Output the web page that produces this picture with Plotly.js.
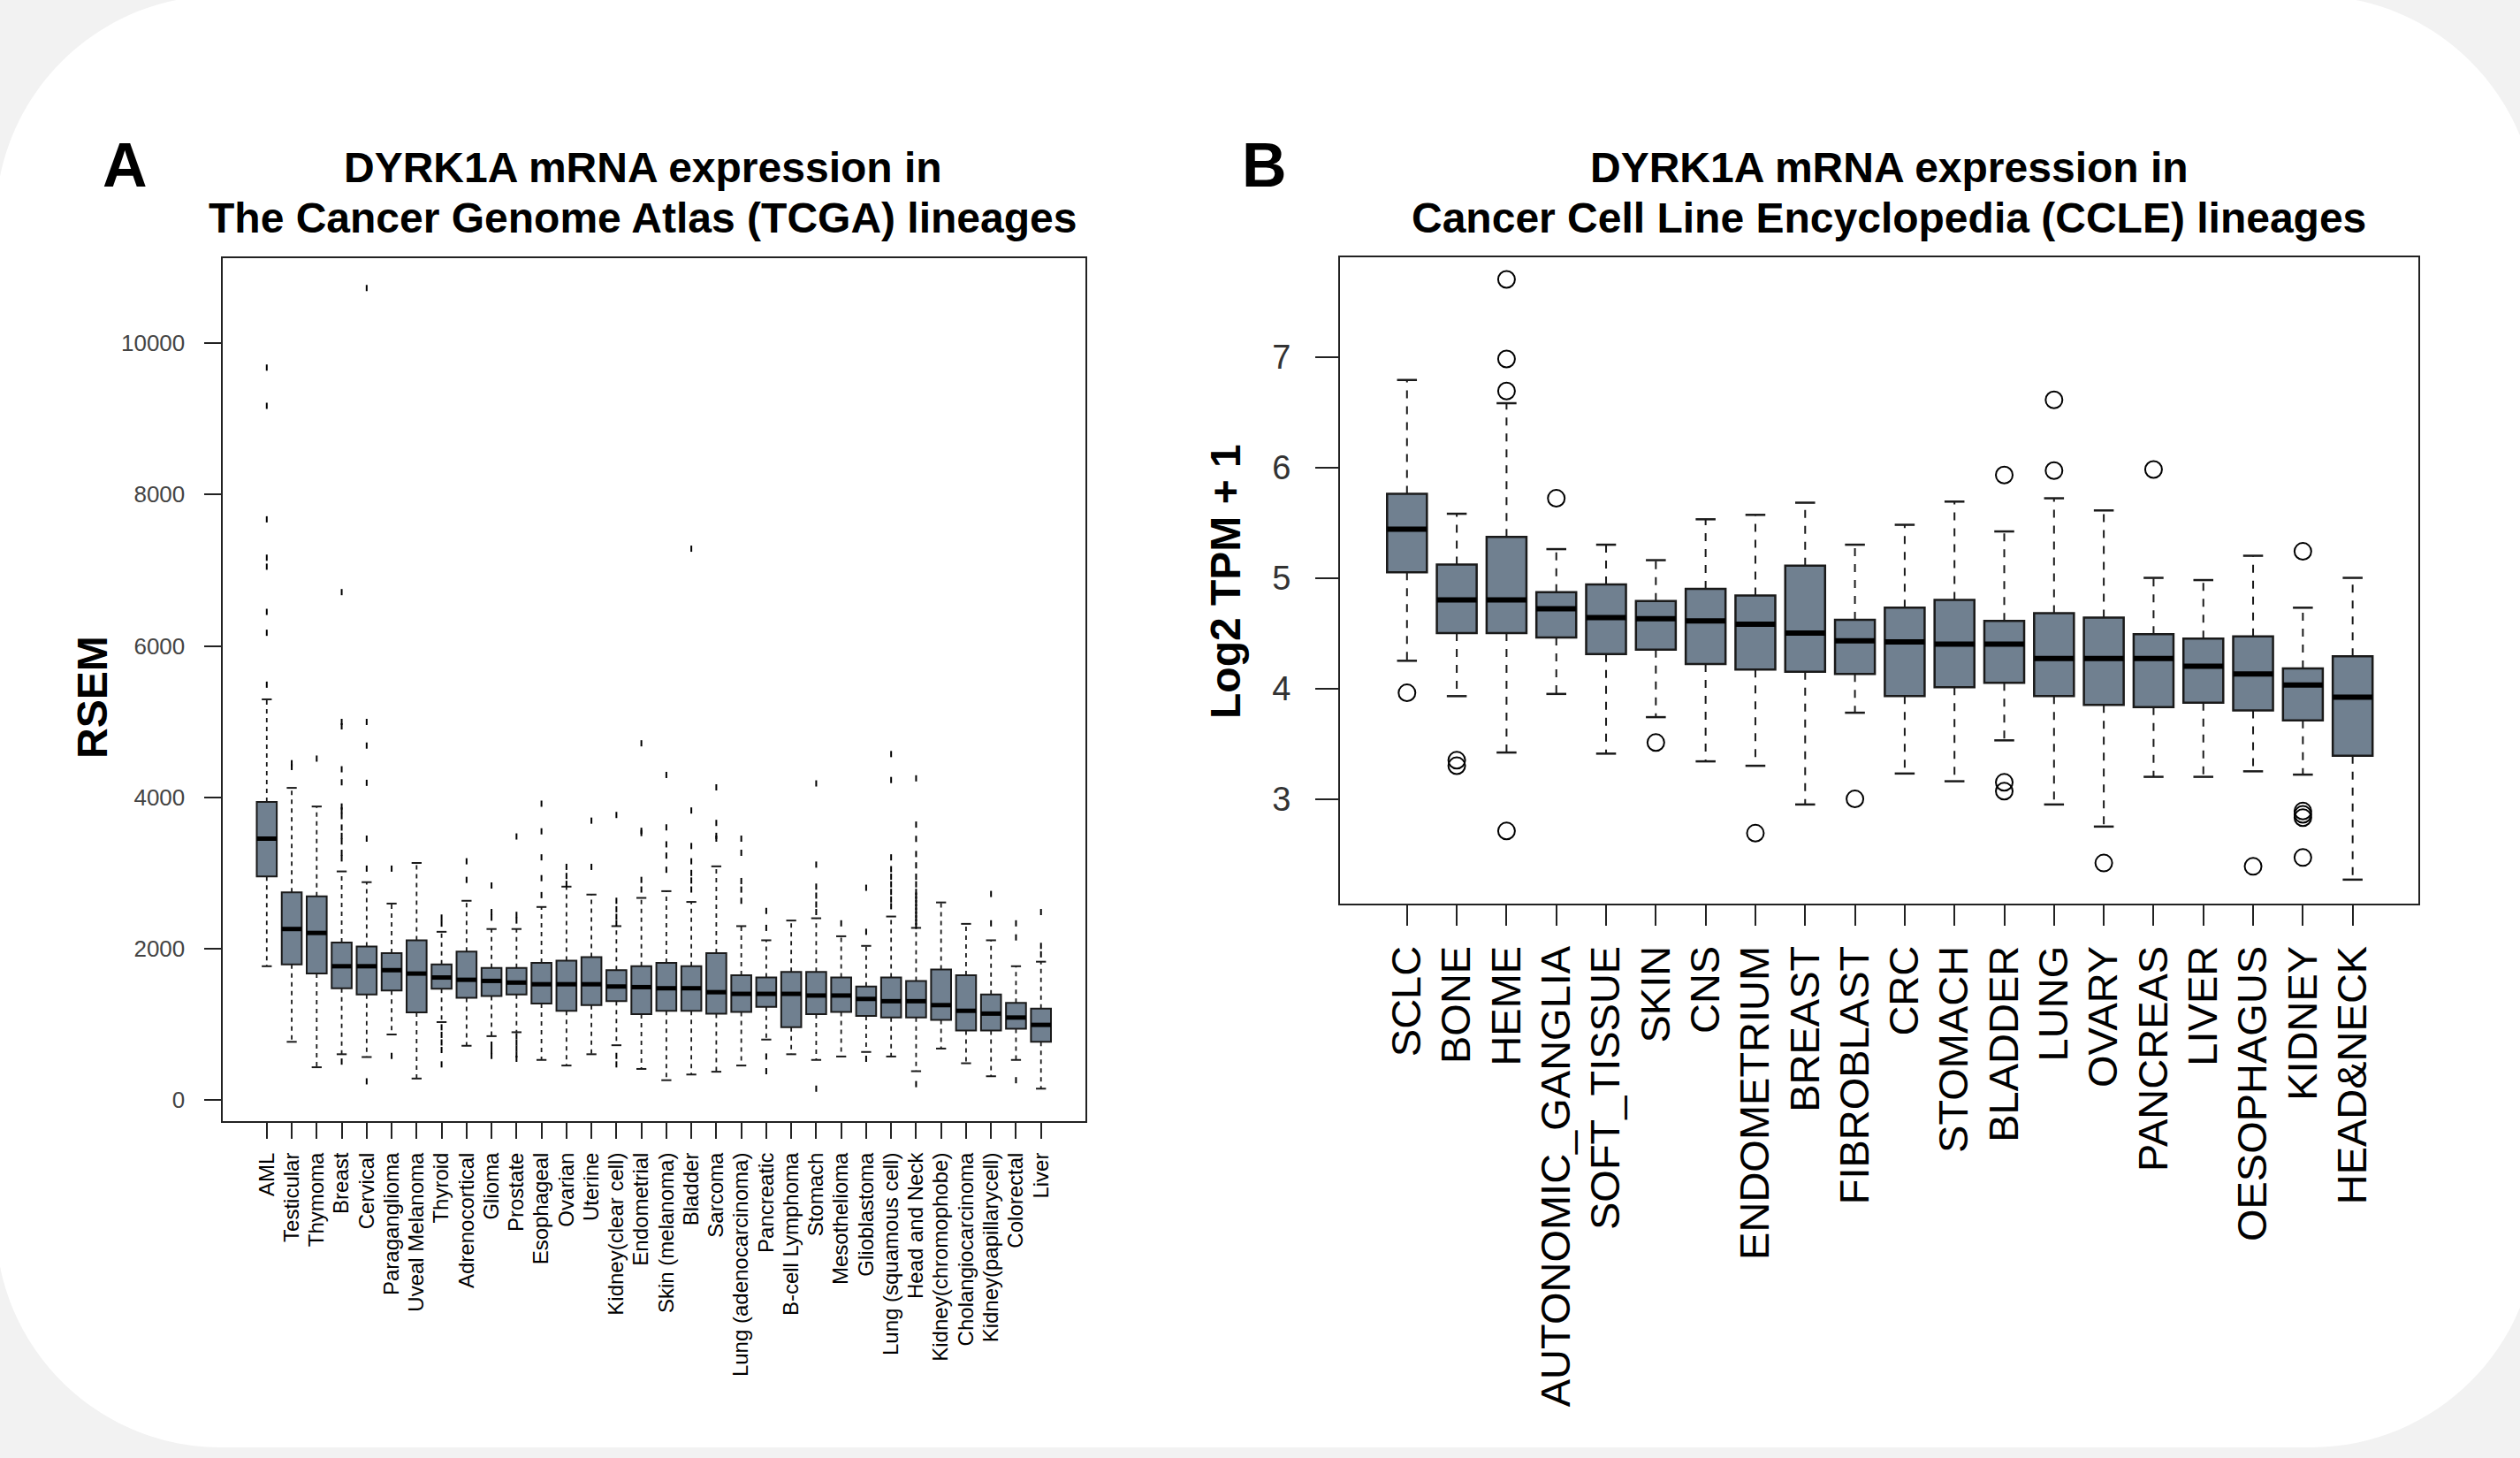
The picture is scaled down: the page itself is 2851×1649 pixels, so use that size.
<!DOCTYPE html>
<html><head><meta charset="utf-8">
<script src="https://cdn.plot.ly/plotly-3.0.1.min.js"></script>
<style>html,body{margin:0;padding:0;background:#f2f2f2;overflow:hidden}#chart{width:2851px;height:1649px}</style>
</head><body><div id="chart"></div>
<script>
// ---------- Panel A : TCGA (RSEM) ----------
const tcgaLineages = ["AML","Testicular","Thymoma","Breast","Cervical","Paraganglioma","Uveal Melanoma","Thyroid","Adrenocortical","Glioma","Prostate","Esophageal","Ovarian","Uterine","Kidney(clear cell)","Endometrial","Skin (melanoma)","Bladder","Sarcoma","Lung (adenocarcinoma)","Pancreatic","B-cell Lymphoma","Stomach","Mesothelioma","Glioblastoma","Lung (squamous cell)","Head and Neck","Kidney(chromophobe)","Cholangiocarcinoma","Kidney(papillarycell)","Colorectal","Liver"];
const tcgaQ3     = [3937,2744,2692,2080,2028,1939,2110,1790,1961,1745,1745,1812,1842,1887,1715,1767,1812,1767,1939,1648,1618,1693,1693,1618,1499,1618,1573,1723,1648,1394,1283,1208];
const tcgaMedian = [3453,2259,2207,1767,1767,1715,1670,1618,1588,1573,1551,1529,1529,1529,1499,1491,1476,1476,1424,1402,1402,1402,1380,1380,1335,1305,1305,1253,1178,1141,1089,992];
const tcgaQ1     = [2953,1790,1670,1476,1394,1447,1156,1469,1350,1372,1394,1275,1178,1253,1305,1133,1178,1178,1141,1163,1230,962,1133,1163,1111,1089,1089,1059,917,917,940,768];
const tcgaUpper  = [5294,4124,3878,3020,2878,2595,3132,2222,2632,2259,2259,2550,2819,2714,2297,2670,2759,2617,3087,2297,2110,2371,2401,2163,2036,2424,2274,2610,2327,2110,1767,1827];
const tcgaLower  = [1767,768,432,604,567,865,283,1029,716,843,895,529,455,604,723,410,261,336,373,455,798,604,529,574,634,574,380,679,485,313,529,149];
const tcgaOutliers = [
  [9679,9172,7673,7166,7047,6450,6174,5488],
  [4450,4400],
  [4511],
  [6711,4996,4937,4370,4198,3878,3825,3751,3600,3490,3415,3266,3192,507],
  [10731,4996,4683,4191,3453,3057,246],
  [3057,582],
  [],
  [2410,2330,960,860,760,660,470],
  [3154,2908],
  [2834,2483,2409,731,650,582],
  [3482,2446,2371,843,760,680,600,544],
  [3915,3550,3206,2931,2707],
  [3080,2960,2856],
  [3691,3080],
  [3766,2632,2520,2420,2334,582,470],
  [4713,3557,3527,2908,2781],
  [4295,3602,3378,3229,3042],
  [7285,3825,3356,3154,3000,2900,2781],
  [4131,3661,3490,3453],
  [3453,3266,2893,2780,2632],
  [2498,2274,574,380],
  [],
  [4183,3110,2819,2700,2583,2483,149],
  [2334],
  [2804,2222,544],
  [4571,4228,3206,3050,2950,2850,2750,2650,2560],
  [4250,3639,3450,3250,3100,2950,2850,2750,2700,2650,2600,2550,2500,2450,2400,2350,2300,209],
  [],
  [],
  [2722,2334],
  [2334,2148,261],
  [2483,2036,1924]
];
const tcgaTicks = [0,2000,4000,6000,8000,10000];

// ---------- Panel B : CCLE (Log2 TPM + 1) ----------
const ccleLineages = ["SCLC","BONE","HEME","AUTONOMIC_GANGLIA","SOFT_TISSUE","SKIN","CNS","ENDOMETRIUM","BREAST","FIBROBLAST","CRC","STOMACH","BLADDER","LUNG","OVARY","PANCREAS","LIVER","OESOPHAGUS","KIDNEY","HEAD&NECK"];
const ccleQ3     = [5.76,5.12,5.37,4.87,4.94,4.79,4.90,4.84,5.11,4.62,4.73,4.80,4.61,4.68,4.64,4.49,4.45,4.47,4.18,4.29];
const ccleMedian = [5.44,4.80,4.80,4.72,4.64,4.63,4.61,4.58,4.50,4.43,4.42,4.40,4.40,4.27,4.27,4.27,4.20,4.13,4.03,3.92];
const ccleQ1     = [5.05,4.50,4.50,4.46,4.31,4.35,4.22,4.17,4.15,4.13,3.93,4.01,4.05,3.93,3.85,3.83,3.87,3.80,3.71,3.39];
const ccleUpper  = [6.79,5.58,6.58,5.26,5.30,5.16,5.53,5.57,5.68,5.30,5.48,5.69,5.42,5.72,5.61,5.00,4.98,5.20,4.73,5.00];
const ccleLower  = [4.25,3.93,3.42,3.95,3.41,3.74,3.34,3.30,2.95,3.78,3.23,3.16,3.53,2.95,2.75,3.20,3.20,3.25,3.22,2.27];
const ccleOutliers = [
  [3.96],[3.35,3.30],[7.70,6.98,6.69,2.71],[5.72],[],[3.51],[],[2.69],[],[3.00],
  [],[],[5.93,3.15,3.07],[6.61,5.97],[2.42],[5.98],[],[2.39],[5.24,2.89,2.86,2.83,2.47],[]
];
const ccleTicks = [3,4,5,6,7];

// ---------- helpers ----------
const W = 2851, H = 1649;
const FONT = "Liberation Sans, Arial, Helvetica, sans-serif";
const BOXFILL = "rgb(112,128,144)";
const px = v => v / W, py = v => 1 - v / H;

function panelTraces(names, q1, med, q3, lo, up, outs, xa, ya, st) {
  const idx = names.map((_, i) => i);
  const half = st.boxWidth / 2, stap = st.boxWidth / 4;
  const traces = [];
  traces.push({
    type: "box", x: idx, q1: q1, median: med, q3: q3, lowerfence: q1, upperfence: q3,
    width: st.boxWidth, whiskerwidth: 0, boxpoints: false,
    fillcolor: BOXFILL, line: {color: "#1a1a1a", width: st.boxLine},
    xaxis: xa, yaxis: ya, hoverinfo: "skip"
  });
  const wx = [], wy = [], sx = [], sy = [], mx = [], my = [], ox = [], oy = [];
  idx.forEach(i => {
    wx.push(i, i, null, i, i, null); wy.push(q3[i], up[i], null, q1[i], lo[i], null);
    sx.push(i - stap, i + stap, null, i - stap, i + stap, null); sy.push(up[i], up[i], null, lo[i], lo[i], null);
    mx.push(i - half, i + half, null); my.push(med[i], med[i], null);
    outs[i].forEach(v => { ox.push(i); oy.push(v); });
  });
  traces.push({type: "scatter", mode: "lines", x: wx, y: wy, xaxis: xa, yaxis: ya, hoverinfo: "skip",
    line: {color: "#1a1a1a", width: st.whiskLine, dash: st.dash}});
  traces.push({type: "scatter", mode: "lines", x: sx, y: sy, xaxis: xa, yaxis: ya, hoverinfo: "skip",
    line: {color: "#1a1a1a", width: st.stapleLine}});
  traces.push({type: "scatter", mode: "lines", x: mx, y: my, xaxis: xa, yaxis: ya, hoverinfo: "skip",
    line: {color: "#000", width: st.medLine}});
  traces.push({type: "scatter", mode: "markers", x: ox, y: oy, xaxis: xa, yaxis: ya, hoverinfo: "skip",
    marker: st.outMarker});
  return traces;
}

const data = [].concat(
  panelTraces(tcgaLineages, tcgaQ1, tcgaMedian, tcgaQ3, tcgaLower, tcgaUpper, tcgaOutliers, "x", "y",
    {boxWidth: 0.8, boxLine: 2, whiskLine: 1.8, stapleLine: 2, medLine: 5, dash: "5px,5px",
     outMarker: {symbol: "line-ns-open", size: 5, color: "#000", line: {color: "#000", width: 2}}}),
  panelTraces(ccleLineages, ccleQ1, ccleMedian, ccleQ3, ccleLower, ccleUpper, ccleOutliers, "x2", "y2",
    {boxWidth: 0.8, boxLine: 2.5, whiskLine: 2, stapleLine: 2.5, medLine: 6, dash: "9px,9px",
     outMarker: {symbol: "circle-open", size: 19, color: "#000", line: {color: "#000", width: 2}}})
);

const axisCommon = {showline: true, mirror: true, linecolor: "#222", linewidth: 2, showgrid: false,
  zeroline: false, ticks: "outside", tickwidth: 2, tickcolor: "#222", fixedrange: true};

// rounded white card
const L = -5, T = -5, R = 2870, B = 1637, r = 255, k = 0.5523 * r;
const P = (x, y) => px(x).toFixed(5) + "," + py(y).toFixed(5);
const cardPath = "M" + P(L + r, T) + " L" + P(R - r, T) +
  " C" + P(R - r + k, T) + " " + P(R, T + r - k) + " " + P(R, T + r) +
  " L" + P(R, B - r) +
  " C" + P(R, B - r + k) + " " + P(R - r + k, B) + " " + P(R - r, B) +
  " L" + P(L + r, B) +
  " C" + P(L + r - k, B) + " " + P(L, B - r + k) + " " + P(L, B - r) +
  " L" + P(L, T + r) +
  " C" + P(L, T + r - k) + " " + P(L + r - k, T) + " " + P(L + r, T) + " Z";

function ann(text, x, y, size, angle) {
  return {text: text, x: px(x), y: py(y), xref: "paper", yref: "paper", showarrow: false,
    xanchor: "center", yanchor: "middle", textangle: angle || 0,
    font: {family: FONT, size: size, color: "#000", weight: 700}};
}

const layout = {
  width: W, height: H, margin: {l: 0, r: 0, t: 0, b: 0},
  paper_bgcolor: "#f2f2f2", plot_bgcolor: "#ffffff", showlegend: false,
  font: {family: FONT, color: "#000"},
  xaxis: Object.assign({}, axisCommon, {
    domain: [px(251.5), px(1228)], range: [-1.78, tcgaLineages.length + 0.78], anchor: "y",
    tickvals: tcgaLineages.map((_, i) => i), ticktext: tcgaLineages, tickangle: -90,
    ticklen: 18, ticklabelstandoff: 6, tickfont: {family: FONT, size: 24, color: "#000"}}),
  yaxis: Object.assign({}, axisCommon, {
    domain: [py(1268), py(291.5)], range: [-280, 11130], anchor: "x",
    tickvals: tcgaTicks, ticktext: tcgaTicks.map(String),
    ticklen: 19, ticklabelstandoff: 16, tickfont: {family: FONT, size: 26, color: "#444"}}),
  xaxis2: Object.assign({}, axisCommon, {
    domain: [px(1516), px(2736)], range: [-1.346, ccleLineages.length + 0.32], anchor: "y2",
    tickvals: ccleLineages.map((_, i) => i), ticktext: ccleLineages, tickangle: -90,
    ticklen: 23, ticklabelstandoff: 4, tickfont: {family: FONT, size: 47, color: "#000"}}),
  yaxis2: Object.assign({}, axisCommon, {
    domain: [py(1022), py(291)], range: [2.053, 7.9], anchor: "x2",
    tickvals: ccleTicks, ticktext: ccleTicks.map(String),
    ticklen: 26, ticklabelstandoff: 20, tickfont: {family: FONT, size: 38, color: "#333"}}),
  shapes: [{type: "path", xref: "paper", yref: "paper", path: cardPath,
    fillcolor: "#ffffff", line: {width: 0}, layer: "below"}],
  annotations: [
    ann("A", 141, 187, 70),
    ann("B", 1430, 187, 70),
    ann("DYRK1A mRNA expression in", 727, 189, 48),
    ann("The Cancer Genome Atlas (TCGA) lineages", 727, 246, 48),
    ann("DYRK1A mRNA expression in", 2137, 189, 48),
    ann("Cancer Cell Line Encyclopedia (CCLE) lineages", 2137, 246, 48),
    ann("RSEM", 104, 789, 48, -90),
    ann("Log2 TPM + 1", 1386, 658, 48, -90)
  ]
};

Plotly.newPlot("chart", data, layout, {staticPlot: true, displayModeBar: false});
</script></body></html>
